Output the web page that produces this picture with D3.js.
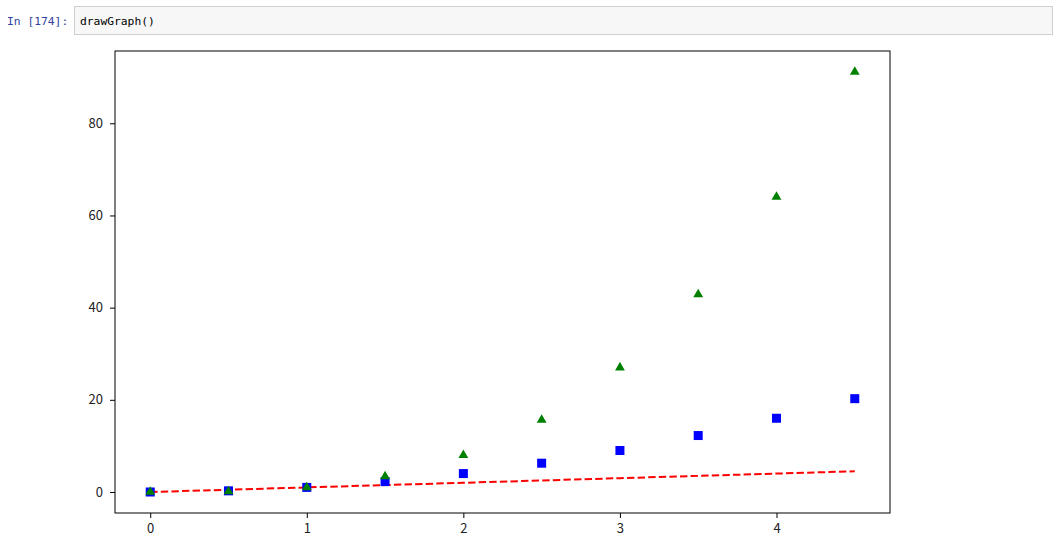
<!DOCTYPE html>
<html><head><meta charset="utf-8">
<script src="https://cdn.jsdelivr.net/npm/d3@7"></script>
<style>
body{margin:0;background:#fff;}
svg{display:block;}
</style></head>
<body>
<svg id="chart" width="1059" height="550"></svg>
<script>
const tValues = [0, 0.5, 1, 1.5, 2, 2.5, 3, 3.5, 4, 4.5];
const linearValues = [0, 0.5, 1, 1.5, 2, 2.5, 3, 3.5, 4, 4.5];
const squareValues = [0, 0.25, 1, 2.25, 4, 6.25, 9, 12.25, 16, 20.25];
const cubeValues = [0, 0.125, 1, 3.375, 8, 15.625, 27, 42.875, 64, 91.125];
const xTicks = [0, 1, 2, 3, 4];
const yTicks = [0, 20, 40, 60, 80];

const svg = d3.select("#chart");

// Jupyter cell header
svg.append("rect").attr("x", 74.5).attr("y", 6.5).attr("width", 978).attr("height", 28)
  .attr("fill", "#f7f7f7").attr("stroke", "#cfcfcf");
svg.append("text").attr("x", 7).attr("y", 25)
  .attr("font-family", "DejaVu Sans Mono, monospace").attr("font-size", 11.3)
  .attr("fill", "#303f9f").text("In [174]:");
svg.append("text").attr("x", 80).attr("y", 25)
  .attr("font-family", "DejaVu Sans Mono, monospace").attr("font-size", 11.3)
  .attr("fill", "#000").text("drawGraph()");

const L = 115, R = 890, T = 51, B = 513;
const x = d3.scaleLinear().domain([-0.225, 4.725]).range([L, R]);
const y = d3.scaleLinear().domain([-4.556, 95.681]).range([B, T]);

const font = "Noto Sans CJK KR, DejaVu Sans, sans-serif";

const gx = svg.append("g").attr("transform", `translate(0,${B})`)
  .call(d3.axisBottom(x).tickValues(xTicks).tickSize(5).tickPadding(6).tickFormat(d3.format("d")));
const gy = svg.append("g").attr("transform", `translate(${L},0)`)
  .call(d3.axisLeft(y).tickValues(yTicks).tickSize(5).tickPadding(7).tickFormat(d3.format("d")));
[gx, gy].forEach(g => {
  g.select(".domain").remove();
  g.selectAll("text").attr("font-family", font).attr("font-size", 13).attr("fill", "#222");
  g.selectAll("line").attr("stroke", "#000").attr("stroke-width", 1);
});

// red dashed line
svg.append("path").datum(tValues.map((t, i) => [t, linearValues[i]]))
  .attr("fill", "none").attr("stroke", "#ff0000").attr("stroke-width", 2)
  .attr("stroke-dasharray", "7.4,3.2")
  .attr("d", d3.line().x(d => x(d[0])).y(d => y(d[1])));

// blue squares
const s = 9;
svg.append("g").selectAll("rect").data(tValues.map((t, i) => [t, squareValues[i]]))
  .join("rect")
  .attr("x", d => x(d[0]) - s / 2).attr("y", d => y(d[1]) - s / 2)
  .attr("width", s).attr("height", s).attr("fill", "#0000ff");

// green triangles
const tri = d3.symbol().type(d3.symbolTriangle).size(42);
svg.append("g").selectAll("path").data(tValues.map((t, i) => [t, cubeValues[i]]))
  .join("path")
  .attr("transform", d => `translate(${x(d[0])},${y(d[1])})`)
  .attr("d", tri).attr("fill", "#008000");

// frame
svg.append("rect").attr("x", L).attr("y", T).attr("width", R - L).attr("height", B - T)
  .attr("fill", "none").attr("stroke", "#000").attr("stroke-width", 1);
</script>
</body></html>
